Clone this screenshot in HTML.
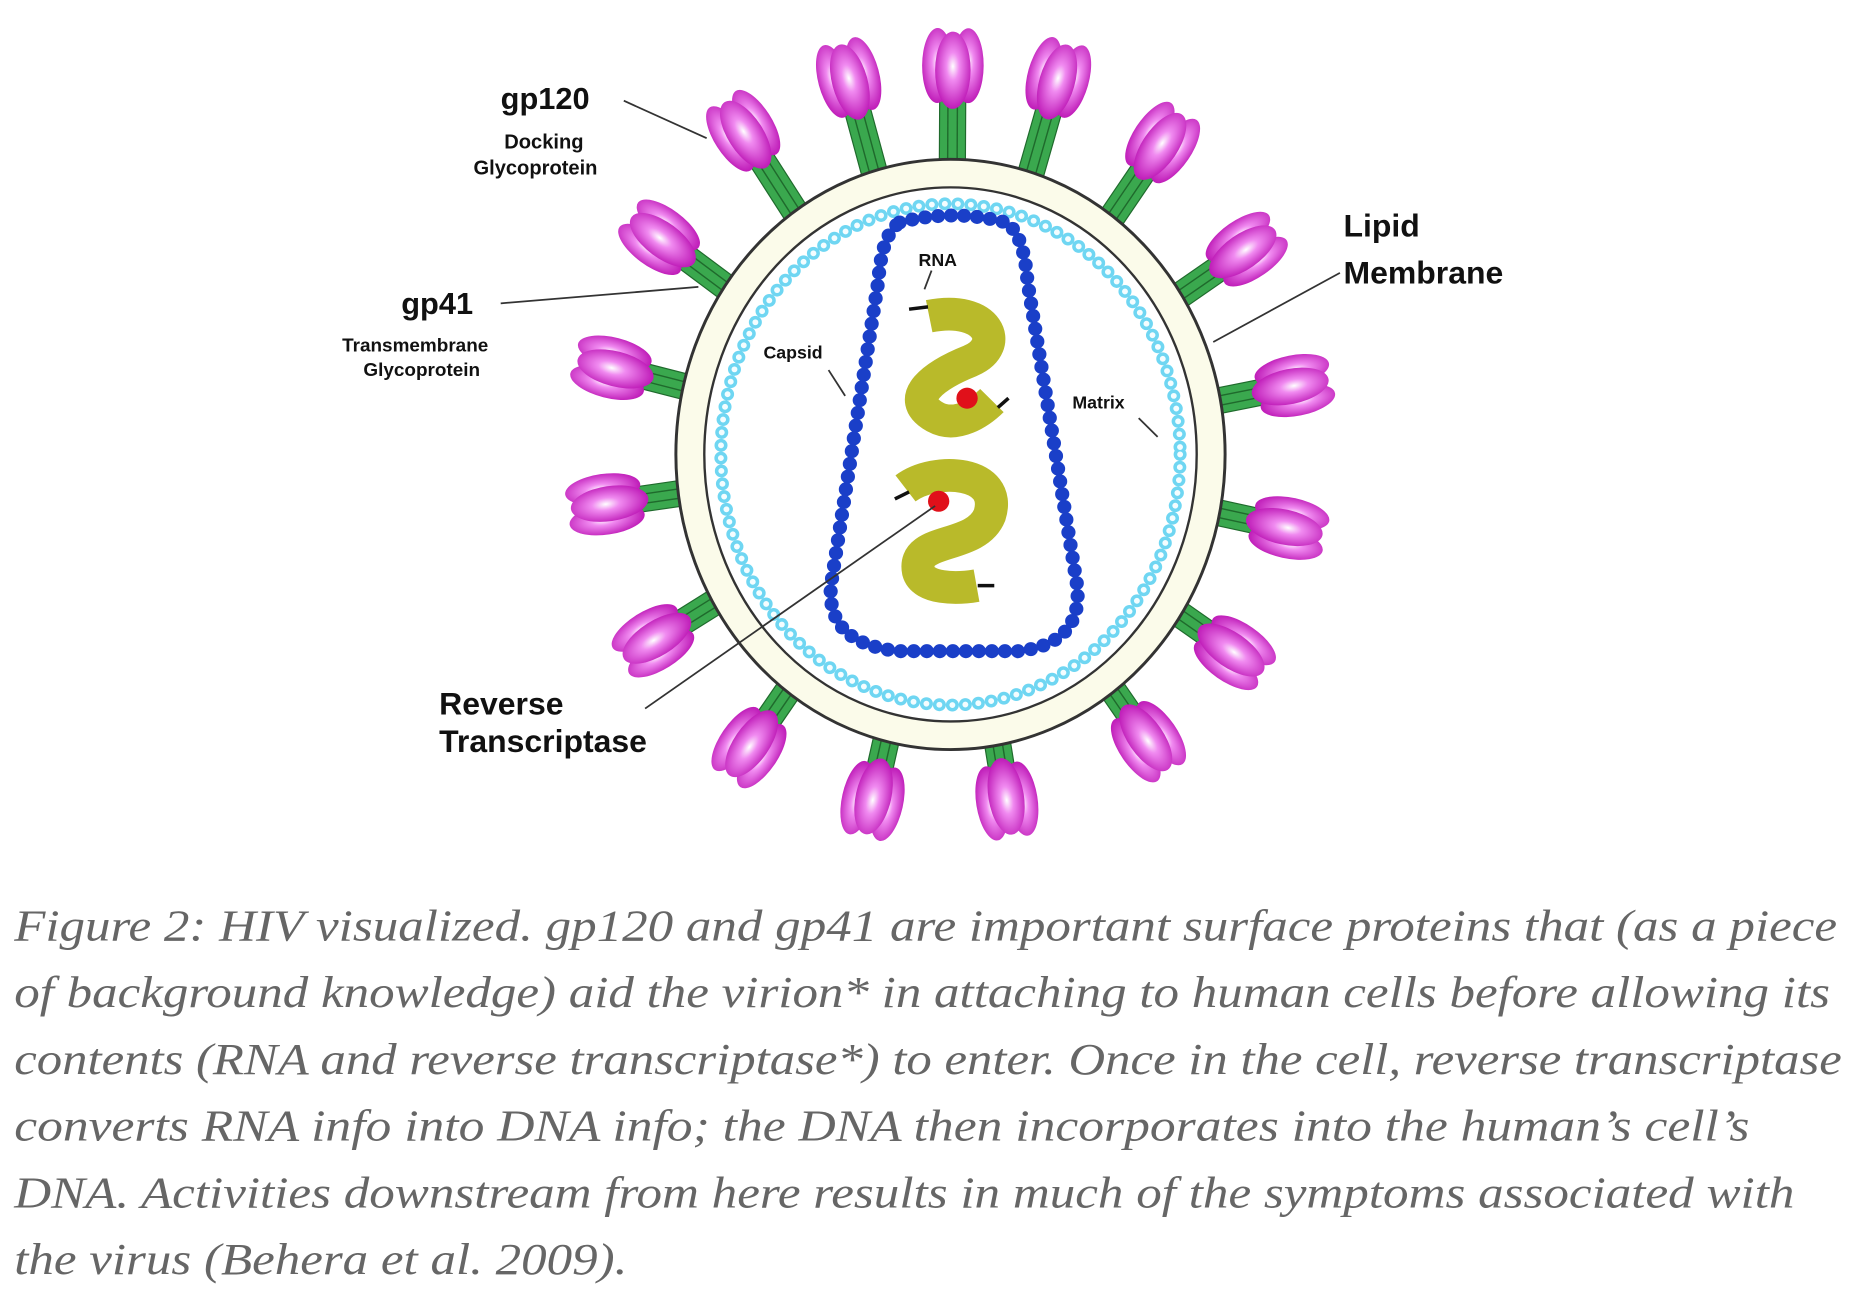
<!DOCTYPE html>
<html><head><meta charset="utf-8"><style>
html,body{margin:0;padding:0;background:#fff;width:1856px;height:1300px;overflow:hidden}
svg{display:block}
.lb{font-family:"Liberation Sans",sans-serif;font-weight:bold;fill:#111}
.cap{font-family:"Liberation Serif",serif;font-style:italic;fill:#666;font-size:38px}
</style></head><body>
<svg id="s" width="1856" height="1300" viewBox="0 0 1568 1110" preserveAspectRatio="none" xmlns="http://www.w3.org/2000/svg">
<defs>
<radialGradient id="pg" cx="0.5" cy="0.45" r="0.6">
<stop offset="0" stop-color="#fff"/><stop offset="0.3" stop-color="#f08af0"/><stop offset="1" stop-color="#b80cb0"/>
</radialGradient>
</defs>
<g id="spk"></g>
<ellipse cx="803" cy="388" rx="232" ry="252" fill="#fbfbea" stroke="#333" stroke-width="2.5"/>
<ellipse cx="803" cy="388" rx="208" ry="228" fill="#fff" stroke="#333" stroke-width="2"/>
<ellipse cx="803" cy="388" rx="194" ry="214" fill="none" stroke="#6fd6f2" stroke-width="11" stroke-dasharray="0 11" stroke-linecap="round"/>
<ellipse cx="803" cy="388" rx="194" ry="214" fill="none" stroke="#f4fdff" stroke-width="5" stroke-dasharray="0 11" stroke-linecap="round"/>
<path d="M760,190 Q805,178 850,190 Q865,200 868,240 L910,500 Q915,550 860,556 L760,556 Q698,550 702,500 L742,240 Q745,200 760,190 Z" fill="none" stroke="#1a3fc8" stroke-width="12" stroke-dasharray="0 11" stroke-linecap="round"/>
<g fill="none" stroke="#b9ba2a" stroke-width="28" stroke-linecap="butt">
<path d="M785,270 C835,260 850,295 820,308 C790,320 762,340 790,356 C808,366 828,352 838,342"/>
<path d="M765,417 C790,398 848,402 836,440 C824,470 770,458 776,488 C780,503 808,503 825,500"/>
</g>
<g stroke="#111" stroke-width="3">
<line x1="768" y1="264" x2="784" y2="262"/><line x1="843" y1="348" x2="852" y2="340"/>
<line x1="756" y1="426" x2="768" y2="420"/><line x1="826" y1="500" x2="840" y2="500"/>
</g>
<circle cx="817" cy="340" r="9" fill="#e0101a"/>
<circle cx="793" cy="428" r="9" fill="#e0101a"/>
<g stroke="#333" stroke-width="1.5" fill="none">
<line x1="527" y1="86" x2="597" y2="118"/>
<line x1="423" y1="259" x2="590" y2="245"/>
<line x1="1132" y1="233" x2="1025" y2="292"/>
<line x1="545" y1="605" x2="790" y2="432"/>
<line x1="700" y1="316" x2="714" y2="338"/>
<line x1="962" y1="357" x2="978" y2="373"/>
<line x1="787" y1="231" x2="781" y2="247"/>
</g>
<text class="lb" x="423" y="93" font-size="26">gp120</text>
<text class="lb" x="426" y="127" font-size="17">Docking</text>
<text class="lb" x="400" y="149" font-size="17">Glycoprotein</text>
<text class="lb" x="339" y="268" font-size="26">gp41</text>
<text class="lb" x="289" y="300" font-size="16">Transmembrane</text>
<text class="lb" x="307" y="321" font-size="16">Glycoprotein</text>
<text class="lb" x="1135" y="202" font-size="27">Lipid</text>
<text class="lb" x="1135" y="242" font-size="27">Membrane</text>
<text class="lb" x="776" y="227" font-size="15">RNA</text>
<text class="lb" x="645" y="306" font-size="15">Capsid</text>
<text class="lb" x="906" y="349" font-size="15">Matrix</text>
<text class="lb" x="371" y="610" font-size="27">Reverse</text>
<text class="lb" x="371" y="642" font-size="27">Transcriptase</text>
<text class="cap" x="12" y="803" textLength="1540" lengthAdjust="spacingAndGlyphs">Figure 2: HIV visualized. gp120 and gp41 are important surface proteins that (as a piece</text>
<text class="cap" x="12" y="860" textLength="1534" lengthAdjust="spacingAndGlyphs">of background knowledge) aid the virion* in attaching to human cells before allowing its</text>
<text class="cap" x="12" y="917" textLength="1544" lengthAdjust="spacingAndGlyphs">contents (RNA and reverse transcriptase*) to enter. Once in the cell, reverse transcriptase</text>
<text class="cap" x="12" y="974" textLength="1466" lengthAdjust="spacingAndGlyphs">converts RNA info into DNA info; the DNA then incorporates into the human’s cell’s</text>
<text class="cap" x="12" y="1031" textLength="1504" lengthAdjust="spacingAndGlyphs">DNA. Activities downstream from here results in much of the symptoms associated with</text>
<text class="cap" x="12" y="1088" textLength="518" lengthAdjust="spacingAndGlyphs">the virus (Behera et al. 2009).</text>
</svg>
<script>
(function(){
var heads=[[718,70],[805,60],[893,70],[980,125],[1050,215],[1090,330],[1085,450],[1040,555],[968,630],[850,680],[738,680],[635,635],[555,545],[515,430],[520,315],[560,205],[630,115]];
var cx=803,cy=388,g=document.getElementById('spk'),h='';
heads.forEach(function(p){
 var dx=p[0]-cx,dy=p[1]-cy,ang=Math.atan2(dy,dx)*180/Math.PI+90;
 var d=Math.sqrt(dx*dx+dy*dy);
 var t=Math.atan2(dy,dx),rm=1/Math.sqrt(Math.pow(Math.cos(t)/208,2)+Math.pow(Math.sin(t)/228,2));
 var sl=d-rm;
 h+='<g transform="translate('+p[0]+','+p[1]+') rotate('+ang.toFixed(1)+')">';
 h+='<rect x="-11" y="22" width="22" height="'+(sl-22).toFixed(1)+'" fill="#3aa84e" stroke="#1f6a2c" stroke-width="1"/>';
 h+='<line x1="-4" y1="24" x2="-4" y2="'+sl.toFixed(1)+'" stroke="#1f6a2c" stroke-width="1.2"/><line x1="4" y1="24" x2="4" y2="'+sl.toFixed(1)+'" stroke="#1f6a2c" stroke-width="1.2"/>';
 h+='<ellipse cx="0" cy="24" rx="10" ry="6" fill="#9a0a95"/>';
 h+='<ellipse cx="-13" cy="-4" rx="13" ry="32" fill="url(#pg)"/><ellipse cx="13" cy="-4" rx="13" ry="32" fill="url(#pg)"/>';
 h+='<ellipse cx="0" cy="0" rx="15" ry="33" fill="url(#pg)"/>';
 h+='</g>';
});
g.innerHTML=h;
})();
</script>
</body></html>
